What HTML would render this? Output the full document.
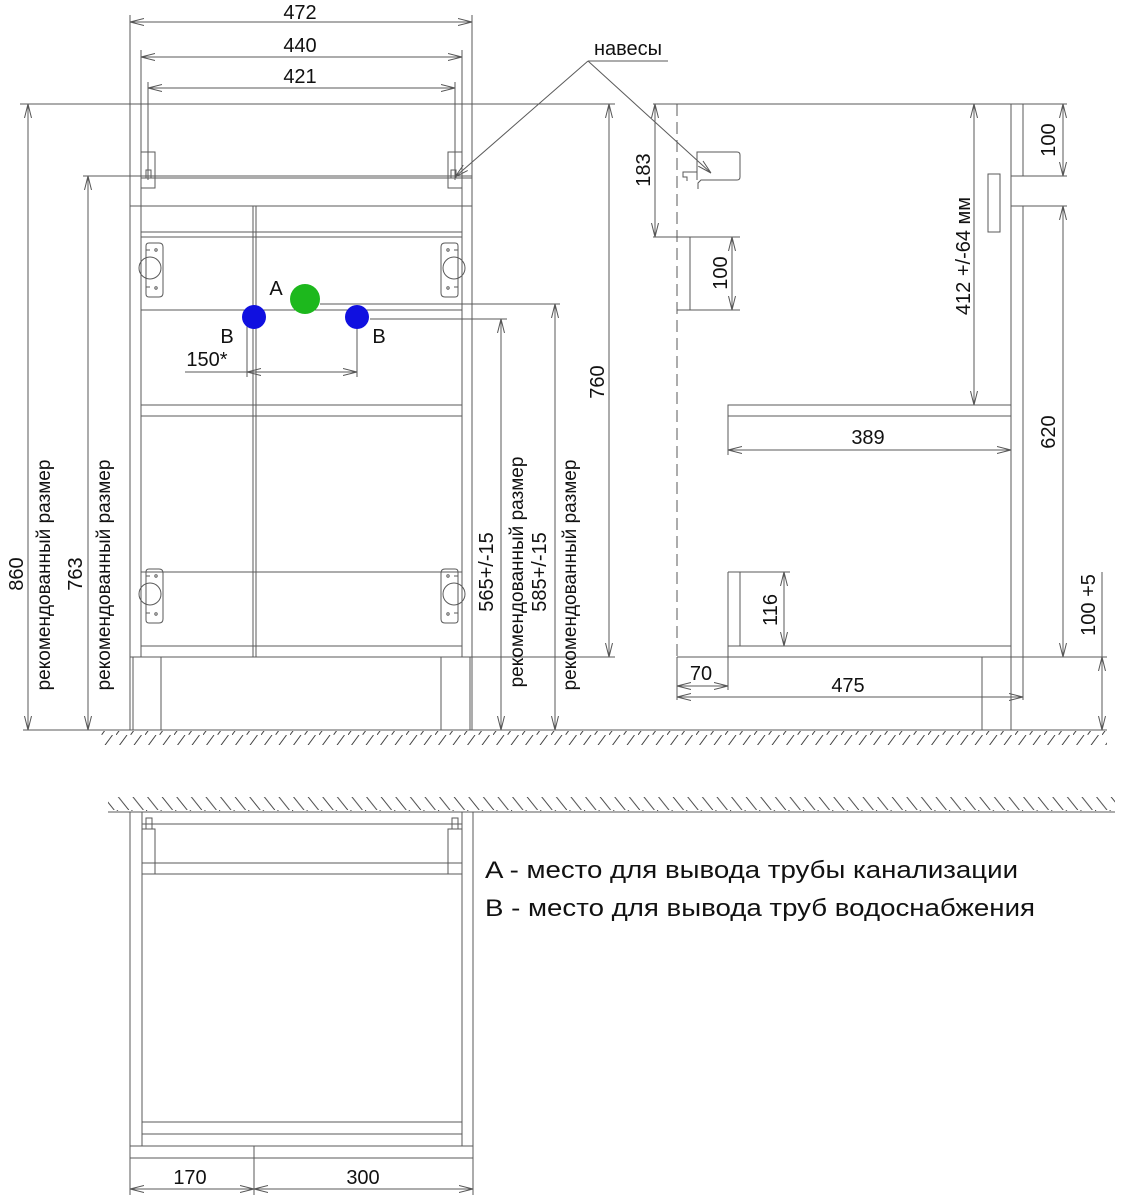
<!DOCTYPE html>
<html><head><meta charset="utf-8"><style>
html,body{margin:0;padding:0;background:#fff}
svg{display:block}
text{font-family:"Liberation Sans",sans-serif;fill:#111}
</style></head><body>
<svg width="1124" height="1200" viewBox="0 0 1124 1200" xmlns="http://www.w3.org/2000/svg">
<defs>
<marker id="a" viewBox="0 0 14 8" refX="14" refY="4" markerWidth="14" markerHeight="8" markerUnits="userSpaceOnUse" orient="auto-start-reverse"><path d="M0,0.5 L14,4 L0,7.5" fill="none" stroke="#555" stroke-width="1"/></marker>
<pattern id="hf" width="14.5" height="15" patternUnits="userSpaceOnUse"><line x1="0" y1="15" x2="11" y2="0" stroke="#444" stroke-width="1"/></pattern>
<pattern id="hc" width="14.6" height="15" patternUnits="userSpaceOnUse"><line x1="0" y1="0" x2="12" y2="15" stroke="#444" stroke-width="1"/></pattern>
</defs>
<g fill="none" stroke="#5a5a5a" stroke-width="1">
<line x1="23" y1="730" x2="1107" y2="730"/>
<rect x="100" y="731" width="1007" height="14" fill="url(#hf)" stroke="none"/>
<line x1="130" y1="15" x2="130" y2="730"/>
<line x1="472" y1="15" x2="472" y2="730"/>
<line x1="130" y1="22" x2="472" y2="22" marker-start="url(#a)" marker-end="url(#a)"/>
<line x1="141" y1="50" x2="141" y2="657"/>
<line x1="462" y1="50" x2="462" y2="657"/>
<line x1="141" y1="57" x2="462" y2="57" marker-start="url(#a)" marker-end="url(#a)"/>
<line x1="148" y1="82" x2="148" y2="180"/>
<line x1="455" y1="82" x2="455" y2="180"/>
<line x1="148" y1="88" x2="455" y2="88" marker-start="url(#a)" marker-end="url(#a)"/>
<line x1="20" y1="104" x2="615" y2="104"/>
<line x1="83" y1="176" x2="472" y2="176"/>
<line x1="141" y1="178" x2="472" y2="178"/>
<rect x="141" y="152" width="14" height="36"/><rect x="146" y="170" width="5" height="8"/>
<rect x="448" y="152" width="14" height="36"/><rect x="451" y="170" width="5" height="8"/>
<line x1="130" y1="206" x2="472" y2="206"/>
<line x1="141" y1="232" x2="462" y2="232"/>
<line x1="141" y1="237" x2="462" y2="237"/>
<line x1="253" y1="206" x2="253" y2="657"/>
<line x1="256" y1="206" x2="256" y2="657"/>
<line x1="141" y1="310" x2="462" y2="310"/>
<line x1="141" y1="405" x2="462" y2="405"/>
<line x1="141" y1="416" x2="462" y2="416"/>
<line x1="141" y1="572" x2="462" y2="572"/>
<line x1="141" y1="646" x2="462" y2="646"/>
<line x1="130" y1="657" x2="615" y2="657"/>
<line x1="133" y1="657" x2="133" y2="730"/><line x1="161" y1="657" x2="161" y2="730"/>
<line x1="441" y1="657" x2="441" y2="730"/><line x1="470" y1="657" x2="470" y2="730"/>
<g id="h1"><path d="M149,243 h10 q4,0 4,4 v46 q0,4 -4,4 h-10 q-3,0 -3,-3 v-48 q0,-3 3,-3z"/><circle cx="150" cy="268" r="11"/><line x1="146" y1="250" x2="150" y2="250"/><line x1="146" y1="287" x2="150" y2="287"/><circle cx="156" cy="250" r="1.2"/><circle cx="156" cy="288" r="1.2"/></g>
<use href="#h1" transform="translate(604,0) scale(-1,1)"/>
<use href="#h1" transform="translate(0,326)"/>
<use href="#h1" transform="translate(604,326) scale(-1,1)"/>
<line x1="28" y1="104" x2="28" y2="730" marker-start="url(#a)" marker-end="url(#a)"/>
<line x1="88" y1="176" x2="88" y2="730" marker-start="url(#a)" marker-end="url(#a)"/>
<line x1="320" y1="304" x2="560" y2="304"/>
<line x1="370" y1="319" x2="507" y2="319"/>
<line x1="501" y1="319" x2="501" y2="730" marker-start="url(#a)" marker-end="url(#a)"/>
<line x1="555" y1="304" x2="555" y2="730" marker-start="url(#a)" marker-end="url(#a)"/>
<line x1="609" y1="104" x2="609" y2="657" marker-start="url(#a)" marker-end="url(#a)"/>
<line x1="247" y1="326" x2="247" y2="377"/>
<line x1="357" y1="326" x2="357" y2="377"/>
<line x1="185" y1="372" x2="247" y2="372"/>
<line x1="247" y1="372" x2="357" y2="372" marker-start="url(#a)" marker-end="url(#a)"/>
<line x1="588" y1="61" x2="668" y2="61"/>
<line x1="588" y1="61" x2="455" y2="177" marker-end="url(#a)"/>
<line x1="588" y1="61" x2="711" y2="173" marker-end="url(#a)"/>
<line x1="653" y1="104" x2="1067" y2="104"/>
<line x1="655" y1="104" x2="655" y2="237" marker-start="url(#a)" marker-end="url(#a)"/>
<line x1="677" y1="104" x2="677" y2="657" stroke-dasharray="12,6"/>
<path d="M697,180 v-28 h40 q3,0 3,3 v22 q0,3 -3,3 h-36 l-3,3 v6 M697,180 v-8 h-14 v5 h4 v4"/>
<line x1="653" y1="237" x2="740" y2="237"/>
<line x1="677" y1="310" x2="740" y2="310"/>
<line x1="690" y1="237" x2="690" y2="310"/>
<line x1="732" y1="237" x2="732" y2="310" marker-start="url(#a)" marker-end="url(#a)"/>
<line x1="974" y1="104" x2="974" y2="405" marker-start="url(#a)" marker-end="url(#a)"/>
<rect x="988" y="174" width="12" height="58"/>
<line x1="1011" y1="104" x2="1011" y2="730"/>
<line x1="1023" y1="104" x2="1023" y2="176"/>
<line x1="1023" y1="206" x2="1023" y2="700"/>
<line x1="1011" y1="176" x2="1067" y2="176"/>
<line x1="1011" y1="206" x2="1067" y2="206"/>
<line x1="1063" y1="104" x2="1063" y2="176" marker-start="url(#a)" marker-end="url(#a)"/>
<line x1="1063" y1="206" x2="1063" y2="657" marker-start="url(#a)" marker-end="url(#a)"/>
<rect x="728" y="405" width="283" height="11"/>
<line x1="728" y1="416" x2="728" y2="455"/>
<line x1="728" y1="450" x2="1011" y2="450" marker-start="url(#a)" marker-end="url(#a)"/>
<line x1="728" y1="572" x2="790" y2="572"/>
<line x1="728" y1="572" x2="728" y2="690"/>
<line x1="740" y1="572" x2="740" y2="646"/>
<line x1="784" y1="572" x2="784" y2="646" marker-start="url(#a)" marker-end="url(#a)"/>
<line x1="728" y1="646" x2="1011" y2="646"/>
<line x1="677" y1="657" x2="1107" y2="657"/>
<line x1="677" y1="657" x2="677" y2="700"/>
<line x1="677" y1="686" x2="728" y2="686" marker-start="url(#a)" marker-end="url(#a)"/>
<line x1="677" y1="697" x2="1023" y2="697" marker-start="url(#a)" marker-end="url(#a)"/>
<line x1="982" y1="657" x2="982" y2="730"/>
<line x1="1102" y1="572" x2="1102" y2="657"/>
<line x1="1102" y1="657" x2="1102" y2="730" marker-start="url(#a)" marker-end="url(#a)"/>
<line x1="108" y1="812" x2="1115" y2="812"/>
<rect x="108" y="797" width="1007" height="14" fill="url(#hc)" stroke="none"/>
<rect x="130" y="812" width="343" height="334"/>
<line x1="142" y1="812" x2="142" y2="1146"/>
<line x1="462" y1="812" x2="462" y2="1146"/>
<line x1="142" y1="824" x2="462" y2="824"/>
<line x1="142" y1="863" x2="462" y2="863"/>
<line x1="142" y1="874" x2="462" y2="874"/>
<rect x="142" y="829" width="13" height="45"/><rect x="146" y="818" width="6" height="11"/>
<rect x="448" y="829" width="14" height="45"/><rect x="452" y="818" width="6" height="11"/>
<line x1="142" y1="1122" x2="462" y2="1122"/>
<line x1="142" y1="1134" x2="462" y2="1134"/>
<line x1="130" y1="1158" x2="473" y2="1158"/>
<line x1="130" y1="1146" x2="130" y2="1195"/>
<line x1="254" y1="1146" x2="254" y2="1195"/>
<line x1="473" y1="1146" x2="473" y2="1195"/>
<line x1="130" y1="1189" x2="254" y2="1189" marker-start="url(#a)" marker-end="url(#a)"/>
<line x1="254" y1="1189" x2="473" y2="1189" marker-start="url(#a)" marker-end="url(#a)"/>
</g>
<circle cx="305" cy="299" r="15" fill="#1db81d"/>
<circle cx="254" cy="317" r="12" fill="#1010e0"/>
<circle cx="357" cy="317" r="12" fill="#1010e0"/>
<g font-size="20" text-anchor="middle">
<text x="300" y="19">472</text>
<text x="300" y="52">440</text>
<text x="300" y="83">421</text>
<text x="628" y="55">навесы</text>
<text x="276" y="295">A</text>
<text x="227" y="343">B</text>
<text x="379" y="343">B</text>
<text x="207" y="366">150*</text>
<text transform="translate(23,574) rotate(-90)">860</text>
<text transform="translate(50,575) rotate(-90)" font-size="19">рекомендованный размер</text>
<text transform="translate(82,574) rotate(-90)">763</text>
<text transform="translate(110,575) rotate(-90)" font-size="19">рекомендованный размер</text>
<text transform="translate(493,572) rotate(-90)">565+/-15</text>
<text transform="translate(523,572) rotate(-90)" font-size="19">рекомендованный размер</text>
<text transform="translate(546,572) rotate(-90)">585+/-15</text>
<text transform="translate(576,575) rotate(-90)" font-size="19">рекомендованный размер</text>
<text transform="translate(604,382) rotate(-90)">760</text>
<text transform="translate(650,170) rotate(-90)">183</text>
<text transform="translate(727,273) rotate(-90)">100</text>
<text transform="translate(970,256) rotate(-90)">412 +/-64 мм</text>
<text transform="translate(1055,140) rotate(-90)">100</text>
<text transform="translate(1055,432) rotate(-90)">620</text>
<text x="868" y="444">389</text>
<text transform="translate(777,610) rotate(-90)">116</text>
<text x="701" y="680">70</text>
<text x="848" y="692">475</text>
<text transform="translate(1095,605) rotate(-90)">100 +5</text>
<text x="190" y="1184">170</text>
<text x="363" y="1184">300</text>
</g>
<g font-size="24">
<text x="485" y="878" textLength="533" lengthAdjust="spacingAndGlyphs">A - место для вывода трубы канализации</text>
<text x="485" y="916" textLength="550" lengthAdjust="spacingAndGlyphs">B - место для вывода труб водоснабжения</text>
</g>
</svg>
</body></html>
